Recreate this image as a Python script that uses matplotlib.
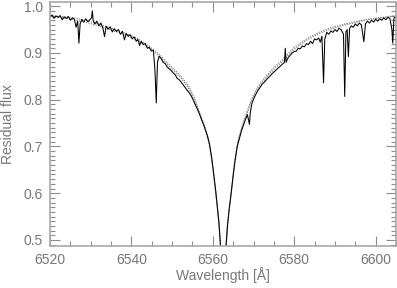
import matplotlib
matplotlib.use("Agg")
import matplotlib.pyplot as plt
from matplotlib.ticker import MultipleLocator

# Observed spectrum (wavelength in Angstrom, residual flux)
obs_wl = [6520.0, 6520.5, 6521.0, 6521.5, 6522.0, 6522.5, 6523.0, 6523.5, 6524.0, 6524.5,
          6525.0, 6525.5, 6526.0, 6526.4, 6526.8, 6527.1, 6527.4, 6527.8, 6528.3, 6528.8,
          6529.3, 6529.8, 6530.2, 6530.4, 6530.6, 6531.0, 6531.5, 6532.0, 6532.5, 6533.0,
          6533.4, 6533.8, 6534.3, 6534.8, 6535.3, 6535.8, 6536.3, 6536.8, 6537.3, 6537.8,
          6538.3, 6538.7, 6539.2, 6539.7, 6540.2, 6540.7, 6541.2, 6541.6, 6542.0, 6542.4,
          6542.9, 6543.4, 6543.9, 6544.4, 6544.9, 6545.4, 6545.8, 6546.1, 6546.4, 6546.8,
          6547.3, 6547.8, 6548.3, 6548.8, 6549.3, 6549.8, 6550.3, 6550.8, 6551.2, 6551.7,
          6552.2, 6552.7, 6553.2, 6553.7, 6554.2, 6554.7, 6555.2, 6555.7, 6556.2, 6556.7,
          6557.2, 6557.7, 6558.2, 6558.7, 6559.2, 6559.7, 6560.2, 6560.7, 6561.1, 6561.5,
          6561.8, 6562.0,
          6563.1, 6563.3, 6563.6, 6564.0, 6564.5, 6565.0, 6565.5, 6566.0, 6566.5, 6567.0,
          6567.5, 6568.0, 6568.5, 6568.8, 6569.0, 6569.2, 6569.6, 6570.1, 6570.6, 6571.1,
          6571.6, 6572.1, 6572.6, 6573.1, 6573.6, 6574.1, 6574.6, 6575.1, 6575.6, 6576.1,
          6576.6, 6577.1, 6577.6, 6577.8, 6578.0, 6578.5, 6579.0, 6579.5, 6580.0, 6580.5,
          6581.0, 6581.5, 6582.0, 6582.5, 6583.0, 6583.5, 6584.0, 6584.5, 6585.0, 6585.5,
          6586.0, 6586.4, 6586.8, 6587.2, 6587.5, 6588.0, 6588.5, 6589.0, 6589.5, 6590.0,
          6590.5, 6591.0, 6591.5, 6592.1, 6592.4, 6592.7, 6593.0, 6593.3, 6593.6, 6594.0,
          6594.5, 6595.0, 6595.5, 6596.0, 6596.5, 6597.1, 6597.5, 6598.0, 6598.5, 6599.0,
          6599.5, 6600.0, 6600.5, 6601.0, 6601.5, 6602.0, 6602.5, 6603.0, 6603.5, 6604.0,
          6604.2, 6604.5, 6605.0]
obs_flux = [0.978, 0.981, 0.974, 0.979, 0.976, 0.980, 0.971, 0.977, 0.974, 0.978,
            0.970, 0.975, 0.972, 0.955, 0.968, 0.921, 0.962, 0.972, 0.966, 0.973,
            0.967, 0.971, 0.975, 0.990, 0.970, 0.962, 0.968, 0.958, 0.964, 0.953,
            0.935, 0.957, 0.951, 0.956, 0.945, 0.952, 0.946, 0.950, 0.940, 0.946,
            0.928, 0.942, 0.936, 0.939, 0.930, 0.934, 0.925, 0.929, 0.916, 0.925,
            0.918, 0.920, 0.910, 0.912, 0.904, 0.906, 0.860, 0.793, 0.880, 0.893,
            0.888, 0.880, 0.877, 0.870, 0.866, 0.862, 0.857, 0.853, 0.846, 0.843,
            0.838, 0.832, 0.826, 0.820, 0.815, 0.808, 0.799, 0.789, 0.780, 0.770,
            0.758, 0.747, 0.735, 0.722, 0.705, 0.677, 0.643, 0.606, 0.572, 0.536,
            0.498, 0.472,
            0.470, 0.495, 0.530, 0.565, 0.600, 0.638, 0.672, 0.700, 0.716, 0.732,
            0.745, 0.757, 0.768, 0.755, 0.747, 0.772, 0.792, 0.803, 0.812, 0.820,
            0.826, 0.833, 0.837, 0.842, 0.847, 0.851, 0.856, 0.860, 0.864, 0.868,
            0.872, 0.876, 0.880, 0.910, 0.880, 0.890, 0.895, 0.900, 0.903, 0.904,
            0.910, 0.909, 0.915, 0.913, 0.920, 0.918, 0.925, 0.920, 0.930, 0.928,
            0.932, 0.923, 0.936, 0.836, 0.930, 0.944, 0.940, 0.947, 0.944, 0.950,
            0.946, 0.953, 0.950, 0.940, 0.807, 0.945, 0.950, 0.892, 0.952, 0.958,
            0.955, 0.962, 0.958, 0.964, 0.960, 0.924, 0.962, 0.968, 0.964, 0.970,
            0.966, 0.972, 0.968, 0.973, 0.970, 0.975, 0.971, 0.976, 0.974, 0.950,
            0.921, 0.975, 0.977]

# Synthetic model profiles (two models)
model_wl = [6520, 6523, 6526, 6529, 6532, 6535, 6538, 6541, 6544, 6547,
            6550, 6552, 6554, 6555.5, 6557, 6558, 6559, 6559.8, 6560.5, 6561,
            6561.5, 6561.9, 6562.3, 6562.8, 6563.2, 6563.6, 6564.1, 6564.6, 6565.3, 6566.1,
            6567.1, 6568.1, 6569.6, 6571, 6573, 6575, 6577, 6580, 6583, 6586,
            6589, 6592, 6595, 6598, 6601, 6605]
model1_flux = [0.980, 0.978, 0.975, 0.969, 0.962, 0.953, 0.944, 0.933, 0.917, 0.896,
               0.869, 0.852, 0.830, 0.803, 0.767, 0.744, 0.712, 0.670, 0.617, 0.580,
               0.540, 0.485, 0.400, 0.400, 0.481, 0.533, 0.571, 0.607, 0.663, 0.709,
               0.742, 0.767, 0.803, 0.827, 0.850, 0.869, 0.885, 0.912, 0.930, 0.944,
               0.954, 0.961, 0.967, 0.972, 0.975, 0.980]
model2_flux = [0.979, 0.9755, 0.971, 0.965, 0.958, 0.949, 0.940, 0.929, 0.913, 0.892,
               0.865, 0.848, 0.826, 0.799, 0.763, 0.741, 0.709, 0.668, 0.615, 0.578,
               0.538, 0.484, 0.400, 0.400, 0.480, 0.532, 0.570, 0.606, 0.661, 0.706,
               0.739, 0.763, 0.799, 0.823, 0.846, 0.865, 0.881, 0.908, 0.927, 0.941,
               0.951, 0.959, 0.965, 0.971, 0.975, 0.979]

plt.rcParams['font.family'] = ['Liberation Sans', 'DejaVu Sans']
grey = '#8c8c8c'

fig = plt.figure(figsize=(3.97, 2.88), dpi=100)
ax = fig.add_axes([50/397, 42/288, 346/397, 244/288])

ax.plot(model_wl, model1_flux, color='#777777', lw=0.8, ls=(0, (1, 1.2)))
ax.plot(model_wl, model2_flux, color='#777777', lw=0.8, ls=(0, (1, 1.2)))
ax.plot(obs_wl, obs_flux, color='black', lw=0.75)

ax.set_xlim(6520, 6605)
ax.set_ylim(0.487, 1.009)
ax.xaxis.set_major_locator(MultipleLocator(20))
ax.xaxis.set_minor_locator(MultipleLocator(5))
ax.yaxis.set_major_locator(MultipleLocator(0.1))
ax.yaxis.set_minor_locator(MultipleLocator(0.01))
ax.yaxis.set_major_formatter(matplotlib.ticker.FormatStrFormatter('%.1f'))

for s in ax.spines.values():
    s.set_color('#a8a8a8')
    s.set_linewidth(1.2)
ax.tick_params(which='both', direction='in', top=True, right=True, color=grey,
               labelcolor='#777777', labelsize=10)
ax.tick_params(which='major', length=7, width=0.8, pad=5)
ax.tick_params(which='minor', length=3.5, width=0.8)

ax.set_xlabel('Wavelength [Å]', color='#777777', fontsize=10, labelpad=0)
ax.set_ylabel('Residual flux', color='#777777', fontsize=10, labelpad=6)

fig.savefig('out.png', dpi=100)
